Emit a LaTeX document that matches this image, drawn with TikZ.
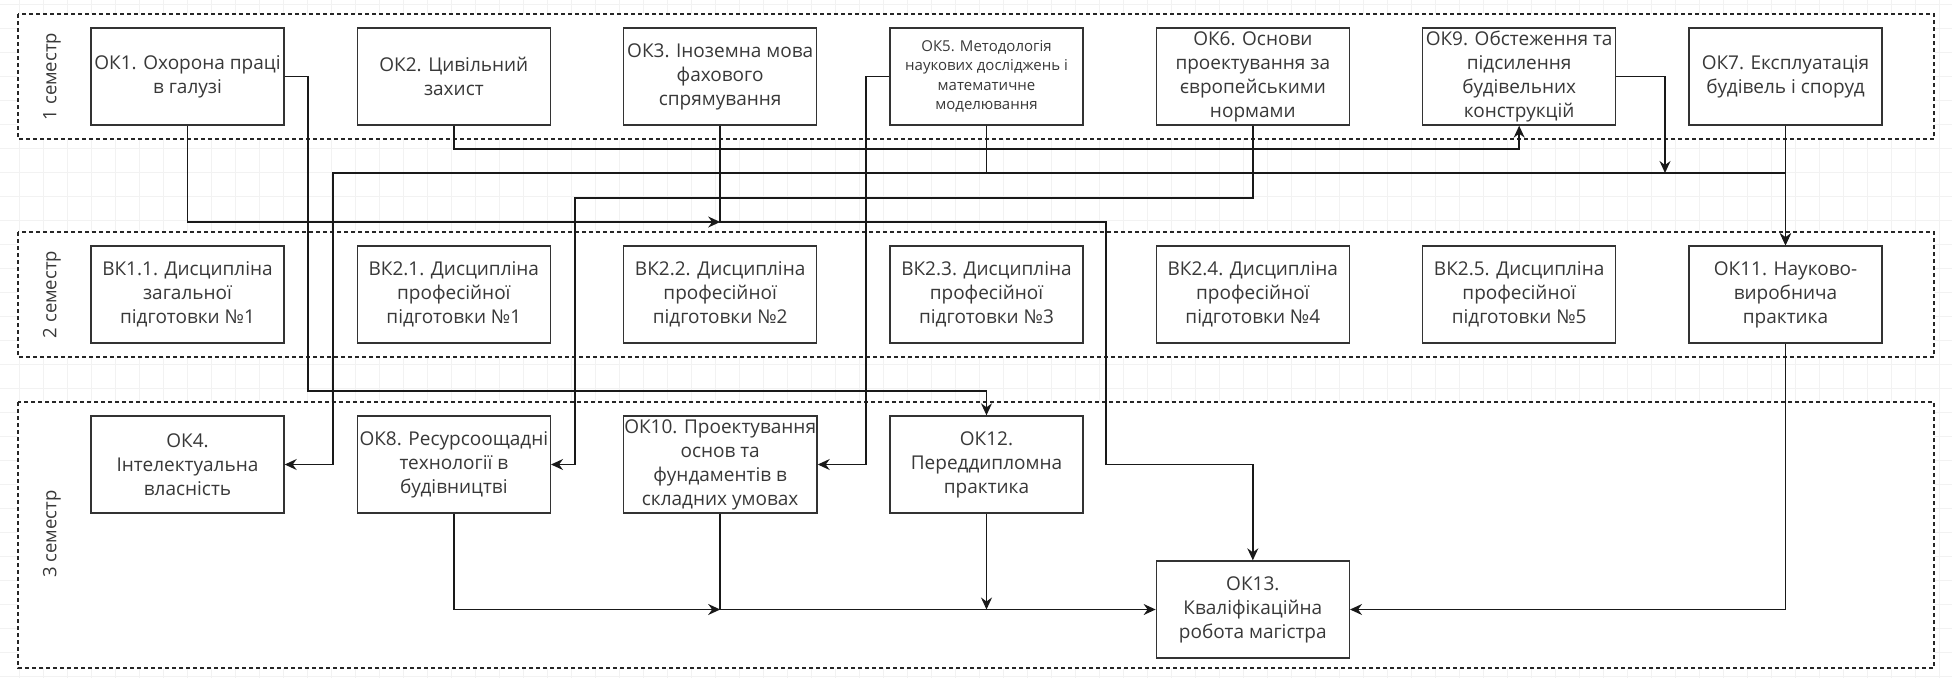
\documentclass[tikz,border=0pt]{standalone}
\usepackage{fontspec}
\setmainfont{Open Sans}
\usetikzlibrary{positioning,arrows.meta}

\begin{document}
\begin{tikzpicture}[
x=1pt, y=-1pt,
on grid,
node distance=266.33pt,
box/.style={draw=black!80, fill=white, line width=1.4pt, text=black!78,
            minimum width=193pt, minimum height=97pt, inner sep=1pt,
            align=center, font=\fontsize{19pt}{24pt}\selectfont},
smalltext/.style={font=\fontsize{15pt}{19.5pt}\selectfont},
lane/.style={draw=black!85, fill=white, line width=1.3pt, dash pattern=on 4pt off 3pt},
lanelabel/.style={rotate=90, text=black!78, font=\fontsize{18.5pt}{24pt}\selectfont},
gridline/.style={draw=black!5, line width=0.8pt},
link/.style={draw=black!90, line width=1.5pt, -{Stealth[length=12pt,width=11pt,inset=4pt]}}
]
\useasboundingbox (0,0) rectangle (1952,678);

% background grid
\foreach \gx in {19,43,...,1951} {
  \draw[gridline] (\gx,0) -- (\gx,678);
}
\foreach \gy in {4,28,...,676} {
  \draw[gridline] (0,\gy) -- (1952,\gy);
}

% semesters
\draw[lane] (18,14) rectangle (1934,139);
\draw[lane] (18,232) rectangle (1934,357);
\draw[lane] (18,402) rectangle (1934,668);
\node[lanelabel] (sem1) at (52,76.5) {1 семестр};
\node[lanelabel] (sem2) at (52,294.5) {2 семестр};
\node[lanelabel] (sem3) at (52,534) {3 семестр};

% 1 semester
\node[box] (ok1) at (187.5,76.5) {ОК1. Охорона праці\\в галузі};
\node[box, right=of ok1] (ok2) {ОК2. Цивільний\\захист};
\node[box, right=of ok2] (ok3) {ОК3. Іноземна мова\\фахового\\спрямування};
\node[box, smalltext, right=of ok3] (ok5) {ОК5. Методологія\\наукових досліджень і\\математичне\\моделювання};
\node[box, right=of ok5] (ok6) {ОК6. Основи\\проектування за\\європейськими\\нормами};
\node[box, right=of ok6] (ok9) {ОК9. Обстеження та\\підсилення\\будівельних\\конструкцій};
\node[box, right=of ok9] (ok7) {ОК7. Експлуатація\\будівель і споруд};

% 2 semester
\node[box, below=218pt of ok1] (vk11) {ВК1.1. Дисципліна\\загальної\\підготовки №1};
\node[box, right=of vk11] (vk21) {ВК2.1. Дисципліна\\професійної\\підготовки №1};
\node[box, right=of vk21] (vk22) {ВК2.2. Дисципліна\\професійної\\підготовки №2};
\node[box, right=of vk22] (vk23) {ВК2.3. Дисципліна\\професійної\\підготовки №3};
\node[box, right=of vk23] (vk24) {ВК2.4. Дисципліна\\професійної\\підготовки №4};
\node[box, right=of vk24] (vk25) {ВК2.5. Дисципліна\\професійної\\підготовки №5};
\node[box, right=of vk25] (ok11) {ОК11. Науково-\\виробнича\\практика};

% 3 semester
\node[box, below=170pt of vk11] (ok4) {ОК4.\\Інтелектуальна\\власність};
\node[box, right=of ok4] (ok8) {ОК8. Ресурсоощадні\\технології в\\будівництві};
\node[box, right=of ok8] (ok10) {ОК10. Проектування\\основ та\\фундаментів в\\складних умовах};
\node[box, right=of ok10] (ok12) {ОК12.\\Переддипломна\\практика};
\node[box, below right=145pt and 266.33pt of ok12] (ok13) {ОК13.\\Кваліфікаційна\\робота магістра};

% routing levels and channels
\coordinate (busA) at (0,149);
\coordinate (busB) at (0,173);
\coordinate (busC) at (0,198);
\coordinate (busD) at (0,222);
\coordinate (busE) at (0,391);
\coordinate (chA) at (308,0);
\coordinate (chB) at (333,0);
\coordinate (chC) at (575,0);
\coordinate (chD) at (866,0);
\coordinate (chE) at (1106,0);
\coordinate (chF) at (1665,0);

% links
\draw[link] (ok1.south) |- (ok3.south |- busD);
\draw[link] (ok3.south) |- (chE |- busD) |- (ok13.north |- ok10.east) -- (ok13.north);
\draw[link] (ok1.east) -| (chA |- busE) -| (ok12.north);
\draw[link] (ok2.south) |- (ok9.south |- busA) -- (ok9.south);
\draw[link] (ok5.south) |- (chB |- busB) |- (ok4.east);
\draw[link] (ok5.south) |- (ok7.south |- busB) -- (ok11.north);
\draw[link] (ok7.south) -- (ok11.north);
\draw[link] (ok9.east) -| (chF |- busB);
\draw[link] (ok6.south) |- (chC |- busC) |- (ok8.east);
\draw[link] (ok5.west) -| (chD |- ok10.east) -- (ok10.east);
\draw[link] (ok8.south) |- (ok10.south |- ok13.west);
\draw[link] (ok10.south) |- (ok13.west);
\draw[link] (ok12.south) -- (ok12.south |- ok13.west);
\draw[link] (ok11.south) |- (ok13.east);

\end{tikzpicture}
\end{document}
